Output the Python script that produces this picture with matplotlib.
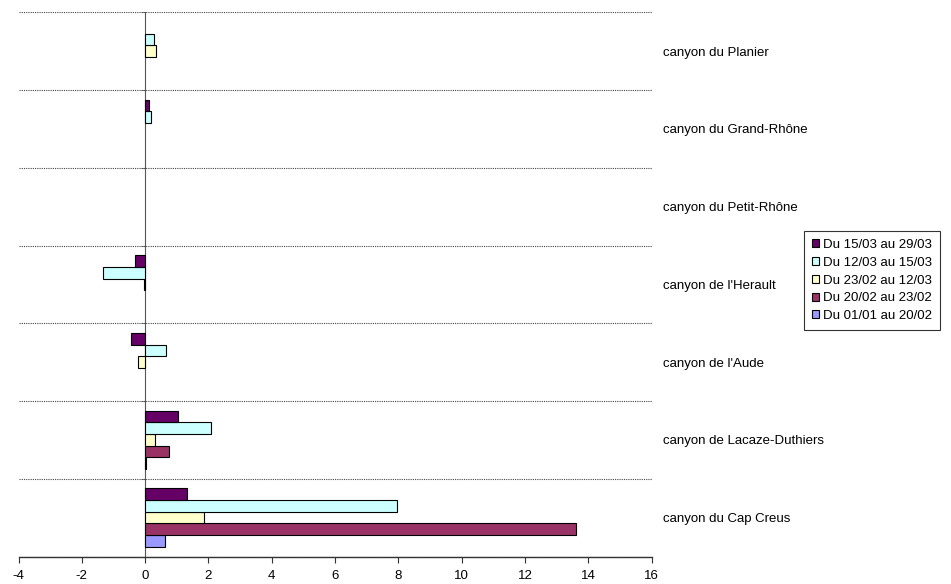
import matplotlib
matplotlib.use("Agg")
import matplotlib.pyplot as plt
import numpy as np

plt.rcParams['font.family'] = ['Liberation Sans', 'DejaVu Sans']

categories = ["canyon du Cap Creus", "canyon de Lacaze-Duthiers", "canyon de l'Aude",
              "canyon de l'Herault", "canyon du Petit-Rhône", "canyon du Grand-Rhône",
              "canyon du Planier"]
series_names = ["Du 01/01 au 20/02", "Du 20/02 au 23/02", "Du 23/02 au 12/03",
                "Du 12/03 au 15/03", "Du 15/03 au 29/03"]
s_0101_2002 = [0.62, 0.03, 0, 0, 0, 0, 0]
s_2002_2302 = [13.6, 0.77, 0, 0, 0, 0, 0]
s_2302_1203 = [1.85, 0.30, -0.21, -0.02, 0, 0, 0.35]
s_1203_1503 = [7.97, 2.07, 0.65, -1.33, 0, 0.18, 0.29]
s_1503_2903 = [1.31, 1.05, -0.44, -0.32, 0, 0.12, 0]
series_values = [s_0101_2002, s_2002_2302, s_2302_1203, s_1203_1503, s_1503_2903]
colors = ["#9999FF", "#993366", "#FFFFCC", "#CCFFFF", "#660066"]
xticks = [-4, -2, 0, 2, 4, 6, 8, 10, 12, 14, 16]

W, H = 951, 584
fig = plt.figure(figsize=(W / 100, H / 100), dpi=100)
ax = fig.add_axes([18.5 / W, 1 - 556.5 / H, (651.5 - 18.5) / W, (556.5 - 12.3) / H])

y = np.arange(len(categories))
h = 0.15
handles = []
for i, (name, vals, col) in enumerate(zip(series_names, series_values, colors)):
    bars = ax.barh(y + (i - 2) * h, vals, height=h, color=col, edgecolor="black",
                   linewidth=0.8, label=name, zorder=3)
    for p, v in zip(bars.patches, vals):
        if v == 0:
            p.set_visible(False)
    handles.append(bars)

ax.set_xlim(-4, 16)
ax.set_ylim(-0.5, len(categories) - 0.5)
ax.set_xticks(xticks)
ax.set_xticklabels([str(t) for t in xticks], fontsize=9.5)

# y axis at zero
for s in ["top", "right"]:
    ax.spines[s].set_visible(False)
ax.spines["left"].set_position(("data", 0))
ax.spines["left"].set_color("#555555")
ax.spines["bottom"].set_color("#333333")
ax.spines["bottom"].set_linewidth(1.0)

ax.set_yticks(y)
ax.set_yticklabels(categories, fontsize=9.5)
ax.set_yticks(np.arange(-0.5, len(categories)), minor=True)
ax.tick_params(axis="y", which="major", length=0, left=False, right=False,
               labelleft=False, labelright=True, pad=8)
ax.tick_params(axis="y", which="minor", length=3, left=True, right=False, color="#555555")
ax.tick_params(axis="x", which="major", length=4, direction="out", pad=6, color="#333333")
ax.grid(which="minor", axis="y", linestyle=(0, (1, 1)), color="#444444", linewidth=0.8, zorder=0)
ax.set_axisbelow(True)

leg = fig.legend(handles[::-1], series_names[::-1], loc="upper left",
                 bbox_to_anchor=(804 / W, 1 - 231 / H), bbox_transform=fig.transFigure,
                 fontsize=9.5, frameon=True, fancybox=False, borderaxespad=0,
                 handlelength=0.55, handleheight=0.55, handletextpad=0.3,
                 labelspacing=0.44, borderpad=0.6)
leg.get_frame().set_edgecolor("black")
leg.get_frame().set_linewidth(0.8)

fig.savefig("out.png", dpi=100)
